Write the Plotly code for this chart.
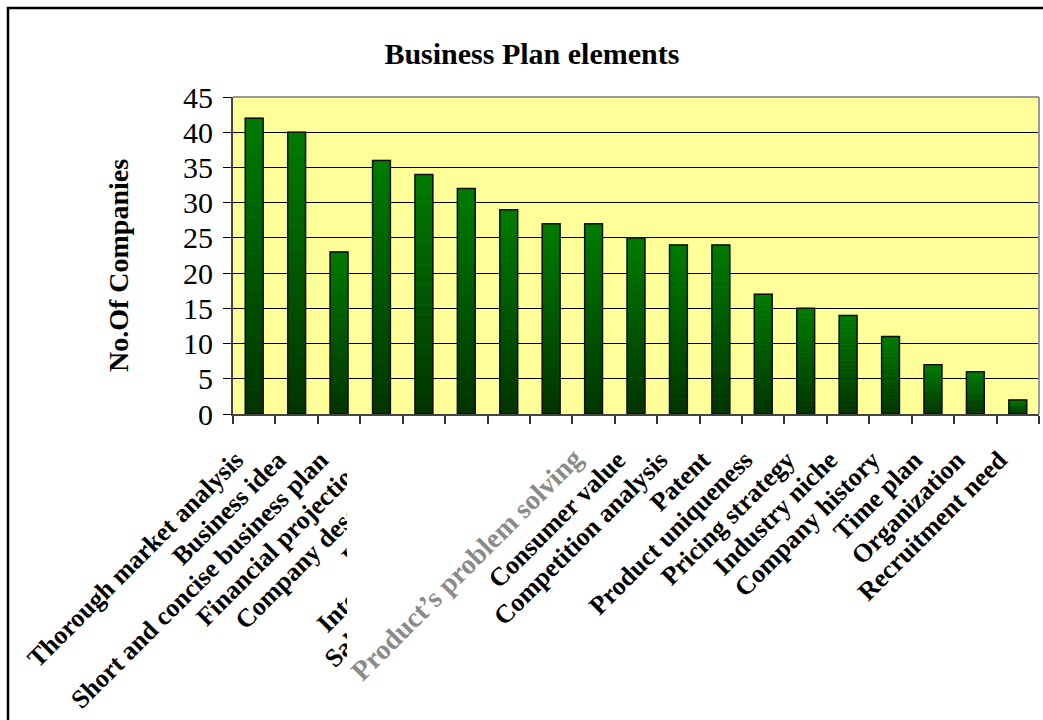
import plotly.graph_objects as go

# ---- data ----
categories = [
    "Thorough market analysis", "Business idea", "Short and concise business plan",
    "Financial projections", "Company description", "Legal aspects",
    "International strategy", "Sales and marketing plans",
    "Product's problem solving", "Consumer value", "Competition analysis", "Patent",
    "Product uniqueness", "Pricing strategy", "Industry niche", "Company history",
    "Time plan", "Organization", "Recruitment need",
]
companies = [42, 40, 23, 36, 34, 32, 29, 27, 27, 25, 24, 24, 17, 15, 14, 11, 7, 6, 2]
y_ticks = [0, 5, 10, 15, 20, 25, 30, 35, 40, 45]

title_text = "Business Plan elements"
y_title = "No.Of Companies"
blurred_index = 8
blurred_label = "Product\u2019s problem solving"

FONT = "Liberation Serif"
N_SEG = 24
top_rgb = (0, 124, 0)
bot_rgb = (0, 52, 0)

fig = go.Figure()

# gradient bars built from stacked fractions of each value
for k in range(N_SEG):
    t = (k + 0.5) / N_SEG  # 0 bottom -> 1 top
    r = int(bot_rgb[0] + (top_rgb[0] - bot_rgb[0]) * t)
    g = int(bot_rgb[1] + (top_rgb[1] - bot_rgb[1]) * t)
    b = int(bot_rgb[2] + (top_rgb[2] - bot_rgb[2]) * t)
    col = f"rgb({r},{g},{b})"
    fig.add_trace(go.Bar(
        x=categories,
        y=[v / N_SEG for v in companies],
        base=[v * k / N_SEG for v in companies],
        width=0.42,
        marker=dict(color=col, line=dict(color=col, width=0.8)),
        showlegend=False, hoverinfo="skip",
    ))

# outline
fig.add_trace(go.Bar(
    x=categories, y=companies, width=0.42,
    marker=dict(color="rgba(0,0,0,0)", line=dict(color="#111111", width=1.5)),
    showlegend=False,
))

fig.update_layout(
    width=1043, height=720,
    barmode="overlay",
    margin=dict(l=233, r=4, t=97, b=306),
    paper_bgcolor="white",
    plot_bgcolor="#FFFF99",
    font=dict(family=FONT, color="black"),
    title=dict(text=f"<b>{title_text}</b>", x=0.51, xref="container", xanchor="center",
               y=1 - 53 / 720, yanchor="middle", font=dict(size=30, family=FONT)),
)

fig.update_yaxes(
    range=[0, 45], tickvals=y_ticks, ticks="outside", ticklen=8, tickcolor="black",
    tickwidth=1, showgrid=True, gridcolor="black", gridwidth=1,
    showline=True, linecolor="#444444", linewidth=2,
    tickfont=dict(size=30, family=FONT), zeroline=False, ticklabelstandoff=4,
)

pad = "\u00a0" * 4
tick_text = []
for i, c in enumerate(categories):
    if i == blurred_index:
        tick_text.append(f"<span style='color:rgba(0,0,0,0)'><b>{c}</b></span>{pad}")
    else:
        tick_text.append(f"<b>{c}</b>{pad}")

fig.update_xaxes(
    tickangle=-45, tickson="boundaries", ticks="outside", ticklen=8, tickcolor="#333333",
    tickwidth=1.5, showline=True, linecolor="#444444", linewidth=2,
    tickfont=dict(size=26, family=FONT, color="black"),
    tickmode="array", tickvals=categories, ticktext=tick_text,
    showgrid=False, ticklabelstandoff=0,
)

px_x0, px_x1, px_y0, px_y1 = 233, 1039, 97, 414
W = px_x1 - px_x0
H = px_y1 - px_y0
def px(xp):
    return (xp - px_x0) / W
def py(yp):
    return (px_y1 - yp) / H

# white patch over part of the labels (polygon leaving the later labels visible)
patch_pts = [(347, 440), (587, 440), (587, 463), (373, 677), (347, 677)]
patch_path = "M " + " L ".join(f"{px(a):.5f},{py(b):.5f}" for a, b in patch_pts) + " Z"

shapes = [
    # outer frame
    dict(type="rect", xref="paper", yref="paper", x0=px(8), x1=px(1048), y0=py(8), y1=py(730),
         line=dict(color="black", width=2.5), fillcolor="rgba(0,0,0,0)", layer="above"),
    # grey plot border (top / right)
    dict(type="line", xref="paper", yref="paper", x0=0, x1=1, y0=1, y1=1,
         line=dict(color="#999999", width=2), layer="above"),
    dict(type="line", xref="paper", yref="paper", x0=1, x1=1, y0=0, y1=1,
         line=dict(color="#999999", width=2), layer="above"),
    dict(type="path", xref="paper", yref="paper", path=patch_path,
         line=dict(width=0), fillcolor="white", layer="above"),
]
fig.update_layout(shapes=shapes)

fig.add_annotation(
    text=f"<b>{y_title}</b>", xref="paper", yref="paper", x=px(118), y=py(266),
    textangle=-90, showarrow=False, font=dict(size=28, family=FONT, color="black"),
    xanchor="center", yanchor="middle",
)
fig.add_annotation(
    text=f"<b>{blurred_label}</b>", xref="x", yref="paper", x=categories[blurred_index], y=0,
    xanchor="right", yanchor="top", textangle=-45, showarrow=False, xshift=-2, yshift=-26,
    font=dict(size=28, family=FONT, color="#8a8a8a"),
)

fig.write_html("out.html")
